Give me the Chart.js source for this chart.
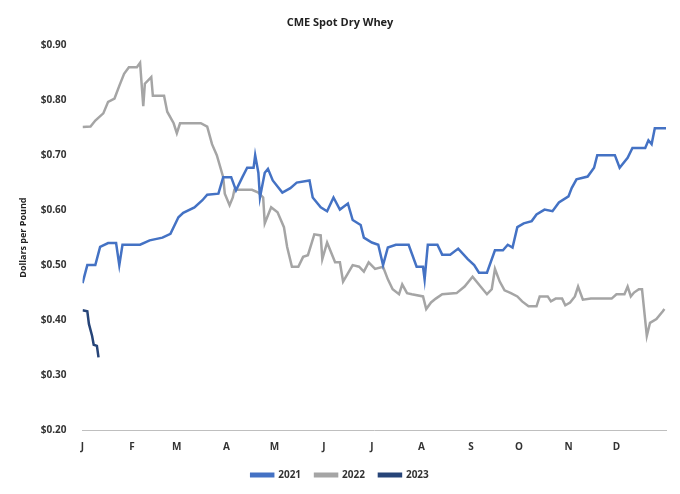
<!DOCTYPE html>
<html>
<head>
<meta charset="utf-8">
<script src="https://cdn.jsdelivr.net/npm/chart.js@4.4.0/dist/chart.umd.min.js"></script>
<style>
  html, body { margin: 0; padding: 0; background: #fff; }
  #wrap { width: 680px; height: 494px; }
</style>
</head>
<body>
<div id="wrap"><canvas id="c"></canvas></div>
<script>
const monthLabels = ['J', 'F', 'M', 'A', 'M', 'J', 'J', 'A', 'S', 'O', 'N', 'D'];
const monthStarts = [0, 31, 59, 90, 120, 151, 181, 212, 243, 273, 304, 334];

const days2021 = [0,3,8,11,16,21,23,25,36,42,50,55,60,63,70,75,78,85,88,93,96,100,103,107,108,110,111,114,116,119,125,130,134,142,144,149,153,157,161,166,169,174,176,181,185,188,191,196,204,209,213,214,216,222,225,230,235,241,245,248,253,258,263,266,269,272,276,281,284,289,294,298,304,306,309,316,320,322,333,336,341,344,352,354,356,358,365];
const values2021 = [0.467,0.50,0.50,0.533,0.54,0.54,0.50,0.537,0.537,0.545,0.55,0.557,0.587,0.595,0.605,0.618,0.628,0.63,0.66,0.66,0.636,0.66,0.677,0.677,0.70,0.668,0.623,0.668,0.675,0.654,0.632,0.64,0.65,0.654,0.623,0.605,0.598,0.623,0.601,0.612,0.582,0.573,0.55,0.541,0.537,0.50,0.532,0.537,0.537,0.497,0.497,0.474,0.537,0.537,0.519,0.519,0.53,0.511,0.50,0.486,0.486,0.527,0.527,0.537,0.532,0.569,0.576,0.58,0.592,0.601,0.598,0.614,0.625,0.64,0.656,0.661,0.677,0.70,0.70,0.677,0.695,0.713,0.713,0.727,0.72,0.749,0.749];

const days2022 = [0,5,8,13,16,20,23,26,29,34,36,38,39,43,44,51,53,57,59,61,74,78,81,84,88,89,92,94,95,106,110,113,114,118,122,126,128,131,135,138,141,145,149,150,153,158,161,163,166,169,173,176,179,183,188,191,194,198,200,203,206,213,215,218,221,225,234,239,244,249,253,256,258,261,264,268,272,275,279,284,286,291,293,296,300,302,305,308,310,313,318,331,334,339,341,343,345,348,350,353,355,359,363,364];
const values2022 = [0.751,0.752,0.763,0.776,0.797,0.803,0.826,0.848,0.86,0.86,0.868,0.789,0.83,0.842,0.808,0.808,0.779,0.758,0.74,0.758,0.758,0.752,0.72,0.70,0.66,0.63,0.609,0.623,0.637,0.637,0.632,0.623,0.576,0.605,0.596,0.569,0.533,0.497,0.497,0.515,0.518,0.556,0.554,0.511,0.541,0.505,0.505,0.47,0.485,0.50,0.497,0.488,0.505,0.493,0.497,0.474,0.456,0.447,0.465,0.449,0.447,0.443,0.42,0.432,0.439,0.447,0.449,0.461,0.479,0.461,0.447,0.456,0.493,0.47,0.454,0.449,0.443,0.434,0.425,0.425,0.443,0.443,0.434,0.439,0.439,0.427,0.432,0.443,0.461,0.437,0.439,0.439,0.447,0.447,0.461,0.443,0.45,0.456,0.456,0.371,0.395,0.402,0.416,0.42];

const days2023 = [0,3,4,6,7,9,10];
const values2023 = [0.418,0.416,0.393,0.371,0.355,0.353,0.332];

const pts = (d, v) => d.map((x, i) => ({ x, y: v[i] }));
const font = { family: "'Open Sans', sans-serif", size: 10, weight: 'bold' };

new Chart(document.getElementById('c').getContext('2d'), {
  type: 'line',
  data: {
    datasets: [
      { label: '2021', data: pts(days2021, values2021), borderColor: '#4472c4', backgroundColor: '#4472c4' },
      { label: '2022', data: pts(days2022, values2022), borderColor: '#a5a5a5', backgroundColor: '#a5a5a5' },
      { label: '2023', data: pts(days2023, values2023), borderColor: '#264478', backgroundColor: '#264478' }
    ]
  },
  options: {
    responsive: true,
    maintainAspectRatio: false,
    animation: false,
    layout: { padding: { left: 14, right: 14, top: 4, bottom: 4 } },
    elements: { point: { radius: 0 }, line: { borderWidth: 2.5, tension: 0 } },
    plugins: {
      title: { display: true, text: 'CME Spot Dry Whey', color: '#222', font: { ...font, size: 11 }, padding: { top: 12, bottom: 16 } },
      legend: {
        position: 'bottom',
        labels: { color: '#333', font, boxWidth: 22, boxHeight: 2.5, padding: 14 }
      },
      tooltip: { enabled: false }
    },
    scales: {
      x: {
        type: 'linear', min: 0, max: 365,
        afterBuildTicks(axis) { axis.ticks = monthStarts.map((v) => ({ value: v })); },
        grid: { display: false },
        border: { color: '#bfbfbf' },
        ticks: {
          color: '#333', font, autoSkip: false, maxRotation: 0,
          callback(value) { return monthLabels[monthStarts.indexOf(value)]; }
        }
      },
      y: {
        min: 0.2, max: 0.9,
        grid: { display: false },
        border: { display: false },
        title: { display: true, text: 'Dollars per Pound', color: '#222', font: { ...font, size: 9 } },
        ticks: { stepSize: 0.1, color: '#333', font, padding: 8, callback: (v) => '$' + v.toFixed(2) }
      }
    }
  }
});
</script>
</body>
</html>
